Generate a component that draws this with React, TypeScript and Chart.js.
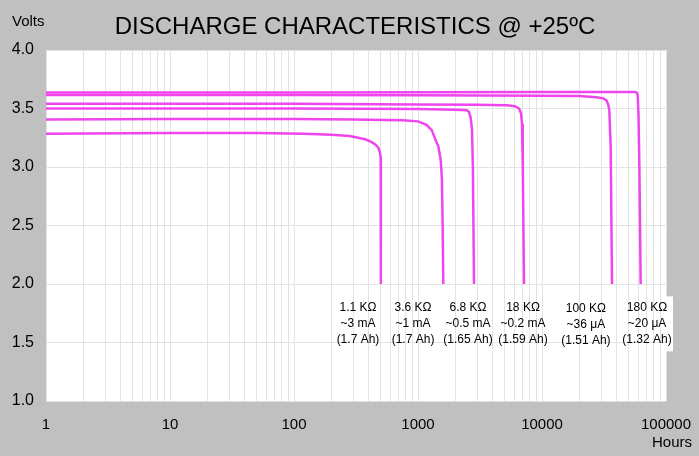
import { useEffect, useRef } from "react";
import { Chart, registerables } from "chart.js";

Chart.register(...registerables);

const FONT = '"Liberation Sans", Arial, sans-serif';
const CURVE_COLOR = "#ef45ef";

const X_TICK_LABELS = [1, 10, 100, 1000, 10000, 100000];
const Y_TICK_LABELS = [1.0, 1.5, 2.0, 2.5, 3.0, 3.5, 4.0];

// one list of hours and one of volts per load
const R1_HOURS = [1, 10, 50, 120, 200, 280, 330, 380, 420, 455, 478, 492, 500, 503, 502, 500];
const R1_VOLTS = [3.285, 3.29, 3.29, 3.285, 3.275, 3.265, 3.25, 3.235, 3.215, 3.19, 3.165, 3.13, 3.08, 3.0, 2.5, 2.0];

const R2_HOURS = [1, 10, 100, 300, 750, 1000, 1170, 1290, 1370, 1460, 1525, 1560, 1580, 1600];
const R2_VOLTS = [3.405, 3.41, 3.41, 3.405, 3.4, 3.39, 3.36, 3.315, 3.245, 3.175, 3.06, 2.89, 2.5, 2.0];

const R3_HOURS = [1, 100, 1000, 2000, 2470, 2580, 2660, 2725, 2770, 2830];
const R3_VOLTS = [3.5, 3.5, 3.495, 3.49, 3.485, 3.47, 3.42, 3.32, 3.0, 2.0];

const R4_HOURS = [1, 100, 1000, 3000, 5200, 6050, 6530, 6770, 6900, 7000, 7160];
const R4_VOLTS = [3.54, 3.54, 3.535, 3.532, 3.528, 3.52, 3.5, 3.46, 3.37, 3.0, 2.0];

const R5_HOURS = [1, 100, 1000, 10000, 20000, 27500, 31200, 33200, 34300, 34900, 35800, 36700];
const R5_VOLTS = [3.615, 3.615, 3.613, 3.61, 3.607, 3.597, 3.587, 3.567, 3.53, 3.487, 3.17, 2.0];

const R6_HOURS = [1, 100, 1000, 10000, 50000, 56300, 58000, 59100, 60000, 61000, 62500];
const R6_VOLTS = [3.636, 3.637, 3.638, 3.64, 3.642, 3.642, 3.635, 3.615, 3.45, 3.0, 2.0];

const LOAD_NAMES = ["1.1 KΩ", "3.6 KΩ", "6.8 KΩ", "18 KΩ", "100 KΩ", "180 KΩ"];
const LOAD_CURRENTS = ["~3 mA", "~1 mA", "~0.5 mA", "~0.2 mA", "~36 μA", "~20 μA"];
const LOAD_CAPACITIES = ["(1.7 Ah)", "(1.7 Ah)", "(1.65 Ah)", "(1.59 Ah)", "(1.51 Ah)", "(1.32 Ah)"];
const LABEL_HOURS = [328, 912, 2530, 7030, 22600, 70300];
const LABEL_VOLTS = 1.8;

const SERIES = [
  [R1_HOURS, R1_VOLTS],
  [R2_HOURS, R2_VOLTS],
  [R3_HOURS, R3_VOLTS],
  [R4_HOURS, R4_VOLTS],
  [R5_HOURS, R5_VOLTS],
  [R6_HOURS, R6_VOLTS],
];

const framePlugin = {
  id: "frame",
  beforeDraw(chart: any) {
    const { ctx, chartArea: a } = chart;
    ctx.save();
    ctx.fillStyle = "#c0c0c0";
    ctx.fillRect(0, 0, chart.width, chart.height);
    ctx.fillStyle = "#ffffff";
    ctx.fillRect(a.left, a.top, a.right - a.left, a.bottom - a.top);
    ctx.restore();
  },
  afterDraw(chart: any) {
    const { ctx, chartArea: a, scales } = chart;
    ctx.save();
    ctx.fillStyle = "#000";

    ctx.font = `24px ${FONT}`;
    ctx.textAlign = "center";
    ctx.textBaseline = "middle";
    ctx.fillText("DISCHARGE CHARACTERISTICS @ +25ºC", 355, 27);

    ctx.font = `15px ${FONT}`;
    ctx.textAlign = "left";
    ctx.fillText("Volts", 12, 22);
    ctx.textAlign = "right";
    ctx.fillText("Hours", 692, 443);

    // label box runs a little past the plot on the right
    const y0 = scales.y.getPixelForValue(LABEL_VOLTS);
    ctx.fillStyle = "#ffffff";
    ctx.fillRect(a.right, y0 - 11, 7, 55);

    ctx.fillStyle = "#000";
    ctx.font = `12px ${FONT}`;
    ctx.textAlign = "center";
    LABEL_HOURS.forEach((h, i) => {
      const x = scales.x.getPixelForValue(h);
      const dy = i === 4 ? 1.5 : 0;
      ctx.fillText(LOAD_NAMES[i], x, y0 + dy);
      ctx.fillText(LOAD_CURRENTS[i], x, y0 + 16 + dy);
      ctx.fillText(LOAD_CAPACITIES[i], x, y0 + 32 + dy);
    });
    ctx.restore();
  },
};

export default function App() {
  const canvasRef = useRef<HTMLCanvasElement>(null);

  useEffect(() => {
    if (!canvasRef.current) return;
    const chart = new Chart(canvasRef.current, {
      type: "line",
      data: {
        datasets: SERIES.map(([hours, volts]) => ({
          data: hours.map((h, i) => ({ x: h, y: volts[i] })),
          borderColor: CURVE_COLOR,
          borderWidth: 2.5,
          pointRadius: 0,
          tension: 0,
          fill: false,
        })),
      },
      options: {
        responsive: false,
        animation: false,
        events: [],
        layout: { padding: { top: 50, right: 33, left: 0, bottom: 0 } },
        plugins: { legend: { display: false }, tooltip: { enabled: false } },
        scales: {
          x: {
            type: "logarithmic",
            min: X_TICK_LABELS[0],
            max: X_TICK_LABELS[X_TICK_LABELS.length - 1],
            afterBuildTicks: (s: any) => {
              const ticks: any[] = [];
              X_TICK_LABELS.forEach((d, i) => {
                if (i === X_TICK_LABELS.length - 1) { ticks.push({ value: d }); return; }
                for (let k = 1; k < 10; k++) ticks.push({ value: d * k });
              });
              s.ticks = ticks;
            },
            afterFit: (s: any) => { s.height = 55; },
            border: { display: false },
            grid: { color: "#e3e3e3", drawTicks: true, tickLength: 15, tickColor: "rgba(0,0,0,0)" },
            ticks: {
              autoSkip: false,
              maxRotation: 0,
              padding: 0,
              color: "#000",
              font: { family: FONT, size: 15 },
              callback: (v: any) => (X_TICK_LABELS.includes(Number(v)) ? String(v) : ""),
            },
          },
          y: {
            min: Y_TICK_LABELS[0],
            max: Y_TICK_LABELS[Y_TICK_LABELS.length - 1],
            afterBuildTicks: (s: any) => { s.ticks = Y_TICK_LABELS.map((v) => ({ value: v })); },
            afterFit: (s: any) => { s.width = 46; },
            border: { display: false },
            grid: { color: "#e3e3e3", drawTicks: false },
            ticks: {
              padding: 12,
              color: "#000",
              font: { family: FONT, size: 16 },
              callback: (v: any) => Number(v).toFixed(1),
            },
          },
        },
      },
      plugins: [framePlugin],
    });
    return () => chart.destroy();
  }, []);

  return (
    <div style={{ position: "fixed", left: 0, top: 0, width: 699, height: 456, background: "#c0c0c0" }}>
      <canvas ref={canvasRef} width={699} height={456} style={{ width: 699, height: 456 }} />
    </div>
  );
}
